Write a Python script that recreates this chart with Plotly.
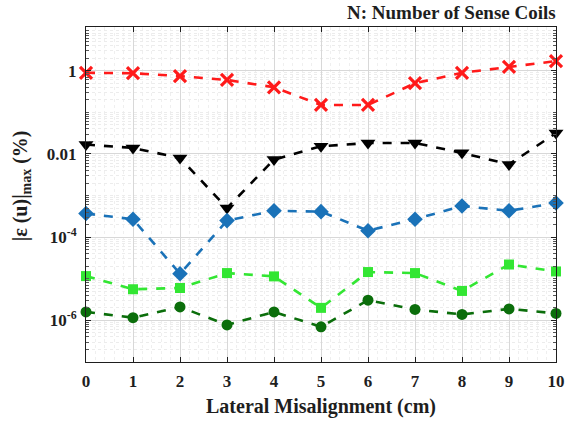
import numpy as np
import plotly.graph_objects as go

# Lateral misalignment positions (cm)
misalignment_cm = [0, 1, 2, 3, 4, 5, 6, 7, 8, 9, 10]
x_ticktext = ["<b>%d</b>" % v for v in misalignment_cm]

# Maximum relative error |eps(u)|_max in percent, one series per coil configuration
err_red = [0.89, 0.87, 0.74, 0.60, 0.40, 0.15, 0.15, 0.50, 0.89, 1.24, 1.70]
err_black = [0.0168, 0.0139, 0.0080, 5.0e-4, 0.0073, 0.0153, 0.0183, 0.0183, 0.0106, 0.0056, 0.0317]
err_blue = [3.7e-4, 2.7e-4, 1.32e-5, 2.5e-4, 4.3e-4, 4.1e-4, 1.43e-4, 2.7e-4, 5.6e-4, 4.3e-4, 6.6e-4]
err_lime = [1.16e-5, 5.6e-6, 6.0e-6, 1.37e-5, 1.14e-5, 2.0e-6, 1.45e-5, 1.37e-5, 5.1e-6, 2.2e-5, 1.5e-5]
err_darkgreen = [1.6e-6, 1.16e-6, 2.1e-6, 7.8e-7, 1.6e-6, 7.0e-7, 3.05e-6, 1.83e-6, 1.39e-6, 1.89e-6, 1.47e-6]

# Labelled y ticks (every second decade); remaining decades and sub-decades as minor ticks
y_tickvals = [1e-6, 1e-4, 1e-2, 1]
y_ticktext = ["<b>10<sup>-6</sup></b>", "<b>10<sup>-4</sup></b>", "<b>0.01</b>", "<b>1</b>"]
y_minor_vals = [m * 10.0 ** e for e in range(-7, 1) for m in range(1, 10)
                if not (m == 1 and 10.0 ** e in y_tickvals)]

FONT = "Liberation Serif, Times New Roman, serif"
INK = "#1e1e1e"

series = [
    ("red", err_red, "#ff1a1a", "x-thin", 12, 3.2),
    ("black", err_black, "#000000", "triangle-down", 13, 0),
    ("blue", err_blue, "#1a72b8", "diamond", 12, 0),
    ("lime", err_lime, "#33e633", "square", 10, 0),
    ("darkgreen", err_darkgreen, "#0b6e0b", "circle", 11, 0),
]

fig = go.Figure()
for name, vals, color, symbol, msize, mline in series:
    fig.add_trace(go.Scatter(
        x=misalignment_cm, y=vals, name=name, mode="lines+markers",
        line=dict(color=color, width=2.6, dash="dash"),
        marker=dict(symbol=symbol, size=msize, color=color,
                    line=dict(color=color, width=mline)),
        cliponaxis=False,
    ))

fig.update_layout(
    width=565, height=422,
    margin=dict(l=86, r=9, t=27, b=60, autoexpand=False),
    plot_bgcolor="white", paper_bgcolor="white",
    showlegend=False,
    font=dict(family=FONT, color=INK),
    annotations=[
        dict(text="<b>N: Number of Sense Coils</b>", xref="paper", yref="paper",
             x=1.005, y=1.0, xanchor="right", yanchor="bottom", yshift=2,
             showarrow=False, font=dict(family=FONT, size=19, color=INK)),
        dict(text="<b>|ε (u)|<sub>max</sub> (%)</b>", xref="paper", yref="paper",
             x=-0.138, y=0.525, xanchor="center", yanchor="middle", textangle=-90,
             showarrow=False, font=dict(family=FONT, size=20, color=INK)),
    ],
)

fig.update_xaxes(
    range=[0, 10], tickvals=misalignment_cm, ticktext=x_ticktext,
    tickfont=dict(family=FONT, size=17, color=INK), ticklabelstandoff=4,
    ticks="inside", ticklen=5, tickcolor=INK, automargin=False,
    showline=True, linecolor=INK, linewidth=1, mirror="ticks",
    showgrid=True, gridcolor="#d8d8d8", gridwidth=1,
    minor=dict(dtick=0.2, showgrid=True, gridcolor="#efefef", griddash="dot",
               ticks="", ticklen=0),
    zeroline=False,
    title=dict(text="<b>Lateral Misalignment (cm)</b>",
               font=dict(family=FONT, size=20, color=INK), standoff=8),
)

fig.update_yaxes(
    type="log", range=[-7, 1.05],
    tickvals=y_tickvals, ticktext=y_ticktext,
    tickfont=dict(family=FONT, size=17, color=INK), ticklabelstandoff=5,
    ticks="inside", ticklen=5, tickcolor=INK, automargin=False,
    showline=True, linecolor=INK, linewidth=1, mirror="ticks",
    showgrid=True, gridcolor="#d8d8d8", gridwidth=1,
    minor=dict(tickvals=y_minor_vals, showgrid=True, gridcolor="#ececec",
               griddash="dot", ticks="inside", ticklen=3, tickcolor="#555555"),
    zeroline=False,
)

fig.write_html("out.html")
